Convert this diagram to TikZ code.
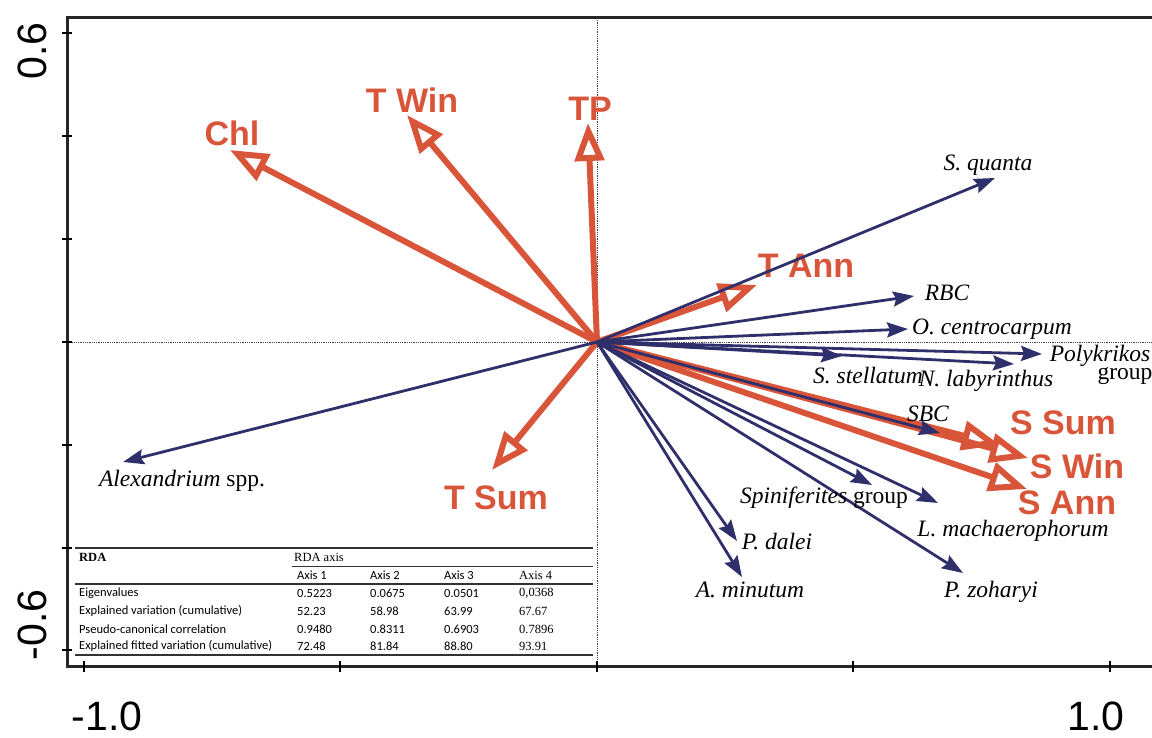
\documentclass[tikz,border=0pt]{standalone}
\usepackage{fontspec}
\setmainfont{Liberation Serif}
\newfontfamily\arialf{Liberation Sans}
\newfontfamily\calib{Carlito}
\usetikzlibrary{arrows.meta}
\definecolor{envred}{HTML}{D9553A}
\definecolor{spblue}{HTML}{2F2F6B}
\tikzset{
  envarrow/.style={draw=envred, line width=6pt, -{Triangle[open,length=38pt,width=29pt]}},
  sparrow/.style={draw=spblue, line width=2.8pt, -{Stealth[length=21pt,width=15pt,inset=3pt]}},
  envlab/.style={text=envred, font=\arialf\bfseries\fontsize{34}{38}\selectfont, inner sep=0pt},
  splab/.style={font=\itshape\fontsize{23.5}{27}\selectfont, inner sep=0pt},
  axlab/.style={font=\arialf\fontsize{41}{46}\selectfont, inner sep=0pt},
  tcal/.style={font=\calib\fontsize{12.5}{14}\selectfont, anchor=west, inner sep=0pt},
  tser/.style={font=\fontsize{12.5}{14}\selectfont, anchor=west, inner sep=0pt},
  axisline/.style={line width=3pt, black!85},
  guide/.style={densely dotted, line width=0.8pt, black!75}
}
\begin{document}
\begin{tikzpicture}[x=1pt,y=-1pt]
\useasboundingbox (0,0) rectangle (1152,738);
% guides
\coordinate (vt) at (597,18); \coordinate (vb) at (597,666);
\coordinate (hl) at (67,342); \coordinate (hr) at (1152,342);
\draw[guide] (vt) -- (vb);
\draw[guide] (hl) -- (hr);
% frame
\coordinate (ftr) at (1152,18); \coordinate (ftl) at (67,18);
\coordinate (fbl) at (67,666); \coordinate (fbr) at (1152,666);
\draw[axisline] (ftr) -- (ftl) -- (fbl) -- (fbr);
\foreach \yy in {33,136,239,342,445,548,650} \draw[line width=2.5pt] (62,\yy) -- (72,\yy);
\foreach \xx in {84,340,597,853,1110} \draw[line width=2.5pt] (\xx,661) -- (\xx,672);
\node[axlab, rotate=90] (y1) at (32,51) {0.6};
\node[axlab, rotate=90] (y2) at (32,625) {-0.6};
\node[axlab] (x1) at (107,716) {-1.0};
\node[axlab] (x2) at (1096,716) {1.0};
% origin
\coordinate (o) at (597,342);
% environmental tips
\coordinate (chl) at (230,150);
\coordinate (twin) at (407,115);
\coordinate (tp) at (588,123);
\coordinate (tann) at (757,285);
\coordinate (tsum) at (492,470);
\coordinate (ssum) at (1000,445);
\coordinate (swin) at (1028,458);
\coordinate (sann) at (1027,489);
\draw[envarrow] (o) -- (chl);
\draw[envarrow] (o) -- (twin);
\draw[envarrow] (o) -- (tp);
\draw[envarrow] (o) -- (tann);
\draw[envarrow] (o) -- (tsum);
\draw[envarrow] (o) -- (sann);
\draw[envarrow] (o) -- (swin);
\draw[envarrow] (o) -- (ssum);
\node[envlab] (lchl) at (232,133) {Chl};
\node[envlab] (ltwin) at (412,100) {T Win};
\node[envlab] (ltp) at (590,109) {TP};
\node[envlab] (ltann) at (806,266) {T Ann};
\node[envlab] (ltsum) at (496,498) {T Sum};
\node[envlab] (lssum) at (1063,423) {S Sum};
\node[envlab] (lswin) at (1077,466) {S Win};
\node[envlab] (lsann) at (1067,503) {S Ann};
% species tips
\coordinate (squ) at (995,178);
\coordinate (rbc) at (914,296);
\coordinate (oce) at (908,329);
\coordinate (pol) at (1042,354);
\coordinate (nla) at (1014,364);
\coordinate (sst) at (842,356);
\coordinate (sbc) at (940,433);
\coordinate (spi) at (872,485);
\coordinate (lma) at (938,503);
\coordinate (pda) at (737,541);
\coordinate (ami) at (742,577);
\coordinate (pzo) at (963,573);
\coordinate (ale) at (123,462);
\foreach \t in {squ,rbc,oce,pol,nla,sst,sbc,spi,lma,pda,ami,pzo,ale}
  \draw[sparrow] (o) -- (\t);
\node[splab] (lsqu) at (988,165) {S. quanta};
\node[splab] (lrbc) at (947,293) {RBC};
\node[splab, anchor=west] (loce) at (912,329) {O. centrocarpum};
\node[splab] (lpol) at (1100,356) {Polykrikos};
\node[splab, font=\upshape\fontsize{23.5}{27}\selectfont] (lpolg) at (1125,376) {group};
\node[splab] (lsst) at (868,376) {S. stellatum};
\node[splab] (lnla) at (986,381) {N. labyrinthus};
\node[splab] (lsbc) at (928,414) {SBC};
\node[splab] (lspi) at (824,498) {Spiniferites\upshape{} group};
\node[splab] (llma) at (1013,531) {L. machaerophorum};
\node[splab] (lpda) at (777,542) {P. dalei};
\node[splab] (lami) at (750,590) {A. minutum};
\node[splab] (lpzo) at (991,592) {P. zoharyi};
\node[splab] (lale) at (182,481) {Alexandrium\upshape{} spp.};
% table
\draw[line width=1.5pt, black!80] (75,548) -- (593,548);
\draw[line width=1pt, black!80] (292,566) -- (593,566);
\draw[line width=1.5pt, black!80] (75,584) -- (593,584);
\draw[line width=2pt, black!80] (75,655) -- (593,655);
\node[tser, font=\bfseries\fontsize{12.5}{14}\selectfont] (trda) at (79,557) {RDA};
\node[tser] (trdaax) at (294,557) {RDA axis};
\node[tcal] (ta1) at (297,575) {Axis 1};
\node[tcal] (ta2) at (370,575) {Axis 2};
\node[tcal] (ta3) at (444,575) {Axis 3};
\node[tser] (ta4) at (519,575) {Axis 4};
\node[tcal] (r1) at (79,593) {Eigenvalues};
\node[tcal] (r2) at (79,611) {Explained variation (cumulative)};
\node[tcal] (r3) at (79,629) {Pseudo-canonical correlation};
\node[tcal] (r4) at (79,646) {Explained fitted variation (cumulative)};
\node[tcal] (v11) at (297,593) {0.5223};
\node[tcal] (v12) at (370,593) {0.0675};
\node[tcal] (v13) at (444,593) {0.0501};
\node[tser] (v14) at (519,593) {0,0368};
\node[tcal] (v21) at (297,611) {52.23};
\node[tcal] (v22) at (370,611) {58.98};
\node[tcal] (v23) at (444,611) {63.99};
\node[tser] (v24) at (519,611) {67.67};
\node[tcal] (v31) at (297,629) {0.9480};
\node[tcal] (v32) at (370,629) {0.8311};
\node[tcal] (v33) at (444,629) {0.6903};
\node[tser] (v34) at (519,629) {0.7896};
\node[tcal] (v41) at (297,646) {72.48};
\node[tcal] (v42) at (370,646) {81.84};
\node[tcal] (v43) at (444,646) {88.80};
\node[tser] (v44) at (519,646) {93.91};
\end{tikzpicture}
\end{document}
